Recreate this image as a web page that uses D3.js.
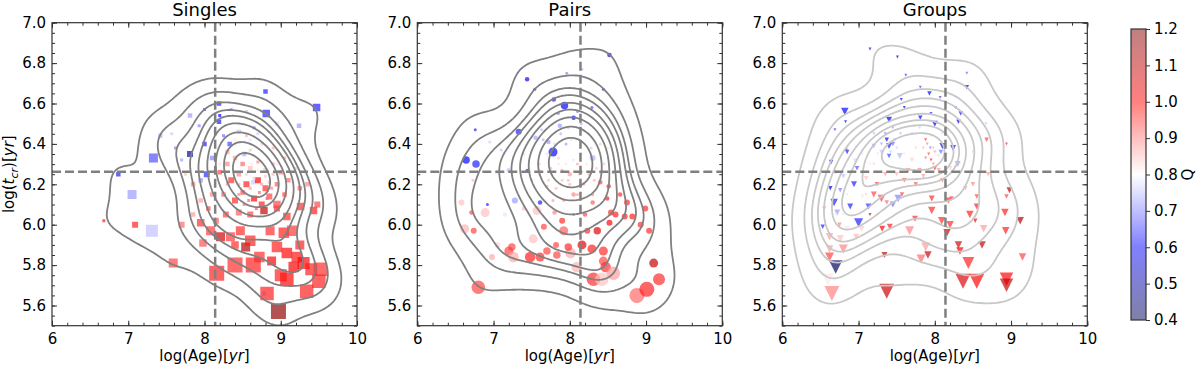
<!DOCTYPE html>
<html>
<head>
<meta charset="utf-8">
<script src="https://cdn.jsdelivr.net/npm/d3@7"></script>
<style>
  body { margin: 0; background: #fff; }
  text { font-family: "DejaVu Sans", sans-serif; fill: #000; }
</style>
</head>
<body>
<div id="chart"></div>
<script>
// [log(Age), log(t_cr), Q, marker size]
var singles = [
  [8.80,6.66,0.62,2],[9.47,6.58,0.62,4],[8.81,6.55,0.62,4],[8.19,6.60,0.62,2],[8.00,6.57,0.65,1],
  [8.35,6.57,0.72,1],[8.55,6.56,0.75,1],[7.81,6.54,0.72,2],[7.93,6.49,0.70,1],[8.19,6.51,0.62,2],
  [8.20,6.54,0.60,1],[9.24,6.49,0.72,2],[8.95,6.50,0.77,2],[8.65,6.48,0.70,1],[8.45,6.46,0.76,2],
  [7.33,6.33,0.66,5],[7.81,6.35,0.50,3],[7.42,6.44,0.74,2],[7.57,6.45,0.76,1],[7.62,6.38,0.70,1],
  [7.70,6.32,0.72,1],[6.87,6.25,0.62,2],[7.05,6.15,0.72,5],[7.31,5.97,0.75,7],[7.09,6.00,0.98,3],
  [6.68,6.02,0.98,1],[7.59,5.81,0.95,5],[7.70,6.00,0.92,3],[7.85,6.05,0.88,2],[8.00,6.40,0.62,2],
  [8.03,6.25,0.63,3],[8.33,6.40,0.65,2],[8.52,6.35,0.73,2],[8.64,6.21,0.76,2],[8.78,5.66,0.74,2],
  [8.10,6.33,0.70,2],[8.25,6.44,0.68,1],[7.95,6.22,0.72,2],
  [8.30,6.30,0.90,2],[8.40,6.33,0.88,2],[8.50,6.30,0.92,2],[8.60,6.28,0.86,2],[8.70,6.31,0.90,1],
  [8.80,6.27,0.85,2],[8.90,6.30,0.88,1],[9.00,6.26,0.90,2],[9.10,6.22,0.92,2],[8.20,6.26,0.95,2],
  [8.35,6.22,0.97,3],[8.45,6.25,0.90,2],[8.55,6.20,0.98,3],[8.70,6.22,1.00,3],[8.80,6.18,0.97,3],
  [8.95,6.20,0.93,2],[9.05,6.15,0.95,2],[8.25,6.15,0.93,2],[8.40,6.12,0.97,3],[8.50,6.16,0.95,2],
  [8.65,6.13,1.00,3],[8.75,6.10,0.98,3],[8.85,6.14,0.95,3],[8.95,6.08,0.97,3],[8.78,6.07,1.10,4],
  [8.60,6.05,0.95,3],[8.45,6.06,0.93,3],[8.10,6.15,0.90,2],[8.05,6.08,0.95,2],[8.15,6.02,0.93,3],
  [7.95,6.12,0.88,2],[7.85,6.20,0.90,2],[7.75,6.25,0.85,1],[8.60,6.37,0.85,1],[8.75,6.40,0.84,1],
  [8.90,6.38,0.86,1],[9.05,6.33,0.88,1],[9.20,6.28,0.85,1],[9.25,6.18,0.93,2],[9.35,6.20,0.90,2],
  [9.26,6.09,0.97,4],[9.43,6.07,0.98,4],[9.48,6.10,0.95,3],[9.08,6.04,0.97,4],[8.95,6.10,0.95,4],
  [7.95,6.01,0.97,4],[8.08,5.97,0.96,5],[8.21,5.94,1.08,5],[8.34,5.94,0.96,5],[8.47,5.97,0.97,5],
  [8.54,5.89,1.12,5],[8.60,5.92,0.98,6],[8.86,5.97,0.97,5],[8.95,5.89,0.98,6],[9.04,5.96,0.98,6],
  [9.15,5.97,0.96,6],[9.08,5.86,1.00,6],[9.21,5.84,0.99,6],[9.17,5.79,1.02,6],[9.30,5.81,1.00,7],
  [9.40,5.78,0.98,7],[9.52,5.78,0.97,8],[9.50,5.72,0.98,8],[9.34,5.67,0.98,8],[9.08,5.73,1.00,8],
  [9.00,5.75,0.98,7],[8.82,5.66,0.98,8],[8.97,5.57,1.18,9],[8.64,5.80,0.98,9],[8.40,5.80,0.97,9],
  [8.16,5.76,0.98,9],[8.72,5.84,0.97,6],[8.88,5.82,1.00,5],[9.25,5.90,0.98,5],[8.40,5.90,0.97,4],
  [8.28,6.05,0.95,3],[7.98,5.91,0.94,4],[8.40,6.42,0.82,1],[8.55,6.44,0.86,1],[8.30,6.36,0.87,2],
  // faint small ones in the dense core
  [8.45,6.20,0.86,1],[8.55,6.25,0.84,1],[8.60,6.18,0.88,1],[8.65,6.23,0.85,1],[8.70,6.27,0.82,1],
  [8.75,6.20,0.88,1],[8.80,6.24,0.84,1],[8.85,6.21,0.86,1],[8.50,6.28,0.80,1],[8.62,6.30,0.82,1],
  [8.72,6.16,0.92,1],[8.58,6.12,0.92,1],[8.40,6.26,0.84,1],[8.35,6.32,0.80,1],[8.48,6.35,0.80,1],
  [8.66,6.35,0.80,1],[8.90,6.25,0.86,1],[8.95,6.30,0.82,1],[8.30,6.20,0.88,1],[8.52,6.10,0.92,1],
  [8.68,6.08,0.94,1],[8.82,6.13,0.92,1],[8.40,6.40,0.78,1],[8.25,6.35,0.80,1],[8.78,6.33,0.80,1],
  [8.60,6.42,0.78,1],[8.88,6.18,0.90,1],[8.45,6.15,0.90,1],[8.20,6.30,0.82,1],[8.70,6.45,0.76,1]
];

var pairs = [
  [8.52,6.84,0.60,2],[7.44,6.72,0.60,2],[7.54,6.67,0.60,1],[7.96,6.75,0.70,1],[8.16,6.77,0.75,1],
  [8.44,6.67,0.62,1],[7.79,6.62,0.62,2],[7.93,6.59,0.60,4],[8.05,6.53,0.60,2],[8.10,6.56,0.70,1],
  [8.29,6.58,0.65,1],[7.33,6.46,0.62,3],[6.76,6.47,0.62,1],[6.77,6.30,0.62,4],[6.64,6.32,0.60,4],
  [7.78,6.36,0.60,5],[7.72,6.41,0.72,2],[7.87,6.49,0.72,2],[7.63,6.47,0.75,1],[7.55,6.43,0.73,2],
  [7.44,6.27,0.62,1],[7.20,6.27,0.75,2],[7.05,6.26,0.78,2],[6.92,6.10,0.62,1],[6.73,6.22,0.86,1],
  [6.60,6.21,0.80,1],[6.58,6.11,0.85,3],[6.71,6.06,0.95,2],[6.89,6.06,0.85,5],[6.62,5.98,0.86,5],
  [6.74,5.97,0.95,3],[6.80,5.69,0.95,8],[7.28,6.12,0.72,3],[7.15,6.05,0.78,2],[7.40,6.08,0.85,2],
  [7.57,6.07,0.85,5],[7.66,5.99,0.95,3],[7.61,6.11,0.62,2],[7.52,5.93,0.85,5],[7.92,5.97,0.93,5],
  [7.90,6.02,0.97,3],[7.80,6.06,0.90,2],[7.05,5.90,0.83,3],[7.20,5.87,0.95,5],[7.26,5.84,0.87,6],
  [7.24,5.89,0.95,4],[7.48,5.84,0.98,6],[7.61,5.84,0.97,5],[7.70,5.87,0.95,4],[7.83,5.85,0.95,4],
  [8.01,5.86,0.87,6],[7.98,5.89,0.97,4],[7.82,5.90,0.95,3],[8.09,5.79,0.86,6],[8.16,5.90,1.05,5],
  [8.29,5.88,0.98,5],[8.36,5.97,1.05,4],[8.23,5.97,0.97,3],[8.44,5.87,0.97,5],[8.44,5.82,0.95,5],
  [8.47,5.79,0.97,6],[8.31,5.73,0.97,8],[8.57,5.76,0.88,8],[8.42,5.73,0.85,8],[8.88,5.65,0.92,9],
  [9.01,5.68,0.98,9],[9.17,5.73,0.97,7],[9.10,5.81,1.10,5],[9.04,5.97,0.97,3],[8.93,6.00,0.97,3],
  [8.99,6.08,0.97,3],[8.82,6.04,0.98,3],[8.72,6.04,0.98,3],[8.75,6.11,0.97,3],[8.60,6.05,0.98,3],
  [8.54,6.06,0.97,3],[8.52,6.01,1.00,3],[8.49,6.13,0.98,2],[8.51,6.19,0.97,2],[8.66,6.15,0.97,2],
  [8.57,6.26,0.95,1],[8.40,6.21,0.95,2],[8.30,6.11,0.93,2],[8.20,6.05,0.95,2],[8.05,6.15,0.90,2],
  [8.00,6.25,0.88,2],[7.90,6.22,0.85,1],[8.10,6.30,0.87,1],[8.20,6.38,0.80,2],[8.30,6.33,0.74,3],
  [8.25,6.45,0.84,1],[7.95,6.40,0.72,1],[8.40,6.40,0.84,1],[8.55,6.45,0.84,1],[8.35,6.49,0.80,1],
  [7.60,6.25,0.84,1],[7.70,6.19,0.87,1],[7.35,6.18,0.80,1],[7.85,6.30,0.82,1],[8.00,6.35,0.80,2],
  [7.10,6.37,0.75,1],[6.95,6.41,0.76,1],[8.70,6.35,0.84,1],[8.60,6.55,0.80,1],[6.98,5.84,0.87,3],
  // faint small ones in the dense core
  [7.60,6.30,0.85,1],[7.70,6.35,0.78,1],[7.75,6.28,0.86,1],[7.80,6.40,0.76,1],[7.85,6.33,0.84,1],
  [7.90,6.27,0.88,1],[7.95,6.30,0.82,1],[8.00,6.20,0.86,1],[8.05,6.32,0.78,1],[8.08,6.40,0.80,1],
  [8.12,6.25,0.84,1],[8.15,6.35,0.78,1],[8.18,6.20,0.88,1],[8.22,6.30,0.82,1],[8.25,6.25,0.86,1],
  [8.28,6.38,0.76,1],[8.32,6.22,0.86,1],[8.35,6.28,0.84,1],[8.38,6.35,0.80,1],[7.65,6.42,0.74,1],
  [7.72,6.22,0.85,1],[7.82,6.18,0.86,1],[7.88,6.45,0.74,1],[7.98,6.48,0.76,1],[8.02,6.42,0.78,1],
  [8.10,6.15,0.88,1],[8.20,6.45,0.80,1],[8.30,6.15,0.90,1],[7.55,6.35,0.80,1],[7.50,6.22,0.85,1],
  [7.92,6.12,0.88,1],[8.45,6.30,0.84,1],[8.05,6.05,0.92,1],[7.78,6.12,0.88,1],[8.15,6.50,0.74,1],
  [7.85,6.55,0.70,1],[7.40,6.35,0.78,1],[7.30,6.30,0.80,1],[8.50,6.38,0.82,1],[7.98,6.22,0.86,1]
];

var groups = [
  [7.15,6.87,0.60,1],[7.51,6.83,0.48,1],[7.62,6.74,0.65,1],[8.42,6.75,0.68,1],[8.42,6.68,0.60,2],
  [7.81,6.68,0.65,1],[7.93,6.65,0.58,2],[8.07,6.63,0.65,1],[6.82,6.56,0.60,4],[6.83,6.51,0.60,1],
  [6.69,6.47,0.65,1],[7.40,6.52,0.58,3],[7.56,6.62,0.60,1],[7.60,6.58,0.60,1],[7.81,6.53,0.60,2],
  [7.95,6.55,0.62,1],[8.00,6.50,0.60,3],[8.27,6.58,0.65,1],[8.31,6.51,0.60,2],[8.34,6.55,0.62,2],
  [8.67,6.50,0.75,1],[8.56,6.45,0.80,1],[8.68,6.42,0.95,2],[8.94,6.40,0.97,1],[8.24,6.38,0.62,3],
  [8.10,6.39,0.55,3],[8.08,6.36,0.68,2],[7.94,6.38,0.70,1],[8.05,6.42,0.75,1],[7.37,6.42,0.60,2],
  [7.40,6.39,0.62,3],[7.45,6.40,0.68,2],[7.20,6.39,0.72,2],[7.30,6.36,0.75,2],[7.40,6.34,0.65,2],
  [7.54,6.34,0.74,3],[6.85,6.36,0.62,2],[6.84,6.37,0.65,1],[6.64,6.31,0.58,2],[6.63,6.18,0.58,2],
  [6.68,6.11,0.62,4],[6.89,6.09,0.62,3],[7.00,6.01,0.62,5],[7.13,6.09,0.64,3],[6.53,5.99,0.62,2],
  [6.72,6.06,0.72,3],[6.94,6.20,0.62,3],[6.98,6.28,0.66,2],[6.80,6.24,0.75,2],[6.76,6.17,0.70,2],
  [6.62,5.94,0.88,4],[6.76,5.93,0.85,4],[6.97,5.94,0.86,3],[6.62,5.88,0.88,4],[6.80,5.88,0.90,5],
  [6.62,5.84,0.95,5],[6.70,5.79,0.42,8],[6.60,5.73,0.82,7],[6.65,5.66,0.90,9],[7.37,5.67,1.08,9],
  [7.34,5.85,1.10,3],[7.31,5.98,1.02,3],[7.41,5.99,0.98,3],[7.15,6.05,1.10,1],[7.04,5.98,0.84,3],
  [7.05,6.14,0.82,2],[7.20,6.15,0.95,3],[7.30,6.13,0.95,4],[7.37,6.11,0.92,2],[7.52,6.13,0.70,4],
  [7.45,6.10,0.68,3],[7.24,6.20,0.95,2],[7.57,6.15,0.95,2],[7.67,5.97,0.90,5],[7.74,6.03,0.97,3],
  [7.82,5.83,0.92,5],[7.88,5.89,0.88,5],[7.91,5.85,1.08,4],[7.96,6.07,0.97,4],[7.96,6.13,0.97,3],
  [8.09,6.02,0.97,4],[8.16,5.96,1.08,4],[8.20,6.00,0.97,4],[8.18,6.12,0.97,3],[8.22,6.13,0.95,2],
  [8.31,5.90,1.07,4],[8.33,5.87,1.02,4],[8.44,5.81,0.98,7],[8.37,5.72,1.05,9],[8.55,5.72,1.00,9],
  [8.46,6.05,0.98,4],[8.53,6.02,1.00,2],[8.55,6.09,0.98,3],[8.62,5.90,1.10,4],[8.64,5.98,0.88,4],
  [8.55,6.14,0.95,2],[8.92,6.06,0.98,4],[8.93,5.97,0.98,4],[8.98,6.17,1.12,3],[8.94,6.14,0.95,2],
  [9.12,6.02,1.12,4],[9.15,5.84,0.95,4],[8.94,5.73,1.00,8],[8.94,5.70,1.10,8],[8.70,6.25,0.88,2],
  [8.50,6.20,0.90,2],[8.40,6.18,0.88,2],[7.98,6.30,0.90,1],[8.05,6.27,0.88,2],[7.88,6.42,0.97,1],
  [7.92,6.35,0.95,1],[7.95,6.32,0.98,1],[8.00,6.28,0.96,2],[7.80,6.27,0.90,2],[7.65,6.27,0.90,2],
  [7.60,6.22,0.95,2],[7.75,6.20,0.93,2],[7.85,6.24,0.88,2],[7.70,6.32,0.84,2],[8.10,6.22,0.92,2],
  [8.20,6.28,0.84,2],[8.30,6.30,0.72,3],[8.40,6.30,0.80,1],[8.50,6.36,0.84,1],[8.60,6.40,0.80,1],
  [7.20,6.30,0.84,1],[7.10,6.23,0.85,2],[7.35,6.25,0.88,2],[7.50,6.25,0.86,2],[6.70,6.26,0.86,2],
  [6.55,6.08,0.88,2],[6.75,6.00,0.90,2],[6.85,5.98,0.82,3],
  // faint small ones in the two cores
  [7.30,6.40,0.72,1],[7.35,6.45,0.70,1],[7.42,6.36,0.75,1],[7.48,6.42,0.72,1],[7.25,6.35,0.78,1],
  [7.50,6.38,0.76,1],[7.38,6.30,0.80,1],[7.85,6.38,0.86,1],[7.90,6.40,0.90,1],[7.95,6.44,0.84,1],
  [8.00,6.36,0.88,1],[8.02,6.40,0.80,1],[7.88,6.33,0.92,1],[7.98,6.38,0.86,1],[8.05,6.34,0.84,1],
  [7.65,6.40,0.80,1],[7.70,6.45,0.76,1],[7.60,6.35,0.82,1],[7.75,6.38,0.84,1],[7.55,6.45,0.74,1],
  [7.20,6.45,0.74,1],[7.15,6.30,0.82,1],[7.05,6.35,0.78,1],[6.95,6.32,0.76,1],[6.90,6.25,0.80,1],
  [6.85,6.15,0.78,1],[6.75,6.10,0.80,1],[6.70,6.05,0.82,1],[6.80,6.05,0.78,1],[6.95,6.12,0.80,1],
  [7.10,6.15,0.84,1],[8.10,6.45,0.78,1],[7.80,6.48,0.76,1],[7.45,6.48,0.72,1],[8.15,6.35,0.84,1]
];

var panelTitles = ["Singles", "Pairs", "Groups"];
var xTicks = [6, 7, 8, 9, 10];
var yTicks = [5.6, 5.8, 6.0, 6.2, 6.4, 6.6, 6.8, 7.0];
var qTicks = [0.4, 0.5, 0.6, 0.7, 0.8, 0.9, 1.0, 1.1, 1.2];
var ageCut = 8.14, tcrCut = 6.262;
// seaborn default iso-proportion levels (levels=10, thresh=0.05)
var kdeLevels = [0.05, 0.1556, 0.2611, 0.3667, 0.4722, 0.5778, 0.6833, 0.7889, 0.8944];

var width = 1200, height = 367;
var panelLeft = [52, 417.3, 782.3], panelW = 305;
var plotTop = 22.7, plotH = 303;

var svg = d3.select("#chart").append("svg")
    .attr("width", width).attr("height", height);

// seismic colormap, vmin 0.4 vmax 1.2
var color = d3.scaleLinear()
    .domain([0.4, 0.6, 0.8, 1.0, 1.2])
    .range(["#00004d", "#0000ff", "#ffffff", "#ff0000", "#800000"])
    .clamp(true);
var side = d3.scaleLinear().domain([1, 9]).range([3, 15]);

// gaussian kde (scott bandwidth) evaluated on a grid, like scipy/seaborn
var kdeGrid = (pts, nx, ny) => {
  var n = pts.length;
  var mx = d3.mean(pts, d => d[0]), my = d3.mean(pts, d => d[1]);
  var sxx = 0, syy = 0, sxy = 0;
  pts.forEach(d => {
    var a = d[0] - mx, b = d[1] - my;
    sxx += a * a; syy += b * b; sxy += a * b;
  });
  var f2 = Math.pow(n, -1 / 3) / (n - 1);
  var cxx = sxx * f2, cyy = syy * f2, cxy = sxy * f2;
  var det = cxx * cyy - cxy * cxy;
  var ixx = cyy / det, iyy = cxx / det, ixy = -cxy / det;
  var bx = Math.sqrt(cxx), by = Math.sqrt(cyy);
  var x0 = d3.min(pts, d => d[0]) - 3 * bx, x1 = d3.max(pts, d => d[0]) + 3 * bx;
  var y0 = d3.min(pts, d => d[1]) - 3 * by, y1 = d3.max(pts, d => d[1]) + 3 * by;
  var dx = (x1 - x0) / (nx - 1), dy = (y1 - y0) / (ny - 1);
  var values = new Float64Array(nx * ny);
  for (var j = 0; j < ny; j++) {
    var gy = y0 + j * dy;
    for (var i = 0; i < nx; i++) {
      var gx = x0 + i * dx, s = 0;
      for (var k = 0; k < n; k++) {
        var a = gx - pts[k][0], b = gy - pts[k][1];
        s += Math.exp(-0.5 * (ixx * a * a + 2 * ixy * a * b + iyy * b * b));
      }
      values[i + j * nx] = s;
    }
  }
  var sorted = Array.from(values).sort((a, b) => b - a);
  var total = d3.sum(sorted), cum = 0;
  var cums = sorted.map(v => (cum += v) / total);
  var thresholds = kdeLevels.map(p => sorted[Math.min(d3.bisectLeft(cums, 1 - p), sorted.length - 1)]);
  return {values, thresholds, x0, y0, dx, dy, nx, ny};
};

var drawPanel = (data, idx, shape, contourColor) => {
  var left = panelLeft[idx];
  var x = d3.scaleLinear().domain([6, 10]).range([left, left + panelW]);
  var y = d3.scaleLinear().domain([5.5, 7.0]).range([plotTop + plotH, plotTop]);
  var g = svg.append("g");

  g.append("clipPath").attr("id", "clip" + idx)
    .append("rect").attr("x", left).attr("y", plotTop).attr("width", panelW).attr("height", plotH);

  var body = g.append("g").attr("clip-path", `url(#clip${idx})`);

  // scatter
  body.append("g").selectAll("path")
    .data(data)
    .join("path")
      .attr("transform", d => `translate(${x(d[0])},${y(d[1])})`)
      .attr("d", d => {
        var s = side(d[3]), h = s / 2;
        if (shape == "square") return `M${-h},${-h}h${s}v${s}h${-s}Z`;
        if (shape == "circle") return `M${-h},0a${h},${h} 0 1,0 ${s},0a${h},${h} 0 1,0 ${-s},0Z`;
        return `M${-h},${-h}L${h},${-h}L0,${h}Z`;
      })
      .attr("fill", d => color(d[2]))
      .attr("fill-opacity", 0.68);

  // kde contours
  var kde = kdeGrid(data, 150, 110);
  var contours = d3.contours().size([kde.nx, kde.ny]).thresholds(kde.thresholds)(kde.values);
  var proj = d3.geoTransform({
    point: function(px, py) {
      this.stream.point(x(kde.x0 + (px - 0.5) * kde.dx), y(kde.y0 + (py - 0.5) * kde.dy));
    }
  });
  body.append("g").selectAll("path")
    .data(contours)
    .join("path")
      .attr("d", d3.geoPath(proj))
      .attr("fill", "none")
      .attr("stroke", contourColor)
      .attr("stroke-width", 1.8)
      .attr("stroke-linejoin", "round");

  // threshold lines
  body.append("line")
    .attr("x1", x(ageCut)).attr("x2", x(ageCut)).attr("y1", plotTop).attr("y2", plotTop + plotH)
    .attr("stroke", "#808080").attr("stroke-width", 2.5).attr("stroke-dasharray", "9,4");
  body.append("line")
    .attr("x1", left).attr("x2", left + panelW).attr("y1", y(tcrCut)).attr("y2", y(tcrCut))
    .attr("stroke", "#808080").attr("stroke-width", 2.5).attr("stroke-dasharray", "9,4");

  // axes, ticks pointing in on all four sides
  var xMinor = d3.range(6, 10.001, 0.2), yMinor = d3.range(5.5, 7.001, 0.05);
  var axes = [
    d3.axisBottom(x).tickValues(xTicks).tickFormat(d3.format("d")),
    d3.axisTop(x).tickValues(xTicks).tickFormat(""),
    d3.axisLeft(y).tickValues(yTicks).tickFormat(d3.format(".1f")),
    d3.axisRight(y).tickValues(yTicks).tickFormat("")
  ];
  var pos = [`translate(0,${plotTop + plotH})`, `translate(0,${plotTop})`, `translate(${left},0)`, `translate(${left + panelW},0)`];
  var minorAxes = [
    d3.axisBottom(x).tickValues(xMinor).tickFormat(""),
    d3.axisTop(x).tickValues(xMinor).tickFormat(""),
    d3.axisLeft(y).tickValues(yMinor).tickFormat(""),
    d3.axisRight(y).tickValues(yMinor).tickFormat("")
  ];
  axes.forEach((ax, i) => {
    g.append("g").attr("transform", pos[i])
      .call(minorAxes[i].tickSizeInner(-3).tickSizeOuter(0))
      .call(a => a.select(".domain").remove())
      .call(a => a.selectAll("line").attr("stroke", "#333"));
    g.append("g").attr("transform", pos[i])
      .call(ax.tickSizeInner(-5).tickSizeOuter(0).tickPadding(i == 2 ? 6 : 8))
      .call(a => a.select(".domain").remove())
      .call(a => a.selectAll("line").attr("stroke", "#333"))
      .call(a => a.selectAll("text").attr("font-size", 15).attr("font-family", "DejaVu Sans").attr("fill", "#000"));
  });

  g.append("rect")
    .attr("x", left).attr("y", plotTop).attr("width", panelW).attr("height", plotH)
    .attr("fill", "none").attr("stroke", "#333").attr("stroke-width", 1.2);

  g.append("text")
    .attr("x", left + panelW / 2).attr("y", 16)
    .attr("text-anchor", "middle").attr("font-size", 18)
    .text(panelTitles[idx]);

  var xl = g.append("text")
    .attr("x", left + panelW / 2).attr("y", 361)
    .attr("text-anchor", "middle").attr("font-size", 15);
  xl.append("tspan").text("log(Age)[");
  xl.append("tspan").attr("font-style", "italic").text("yr");
  xl.append("tspan").text("]");
};

drawPanel(singles, 0, "square", "#808080");
drawPanel(pairs, 1, "circle", "#808080");
drawPanel(groups, 2, "triangle", "#c8c8c8");

// y label, first panel only
var yl = svg.append("text")
    .attr("transform", `translate(14,${plotTop + plotH / 2}) rotate(-90)`)
    .attr("text-anchor", "middle").attr("font-size", 15);
yl.append("tspan").text("log(");
yl.append("tspan").attr("font-style", "italic").text("t");
yl.append("tspan").attr("font-style", "italic").attr("font-size", 11).attr("dy", 4).text("cr");
yl.append("tspan").attr("dy", -4).text(")[");
yl.append("tspan").attr("font-style", "italic").text("yr");
yl.append("tspan").text("]");

// colorbar
var cbX = 1131, cbW = 15, cbTop = 29, cbBot = 320;
var cy = d3.scaleLinear().domain([0.4, 1.2]).range([cbBot, cbTop]);
var grad = svg.append("defs").append("linearGradient")
    .attr("id", "cbgrad").attr("x1", 0).attr("x2", 0).attr("y1", 1).attr("y2", 0);
grad.selectAll("stop")
  .data(d3.range(0.4, 1.2001, 0.05))
  .join("stop")
    .attr("offset", d => (d - 0.4) / 0.8)
    .attr("stop-color", d => color(d))
    .attr("stop-opacity", 0.5);
svg.append("rect")
    .attr("x", cbX).attr("y", cbTop).attr("width", cbW).attr("height", cbBot - cbTop)
    .attr("fill", "url(#cbgrad)").attr("stroke", "#333").attr("stroke-width", 1.2);
svg.append("g")
    .attr("transform", `translate(${cbX + cbW},0)`)
    .call(d3.axisRight(cy).tickValues(qTicks).tickFormat(d3.format(".1f")).tickSizeInner(4).tickSizeOuter(0).tickPadding(4))
    .call(a => a.select(".domain").remove())
    .call(a => a.selectAll("line").attr("stroke", "#333"))
    .call(a => a.selectAll("text").attr("font-size", 15).attr("font-family", "DejaVu Sans").attr("fill", "#000"));
svg.append("text")
    .attr("transform", `translate(1193,${(cbTop + cbBot) / 2}) rotate(-90)`)
    .attr("text-anchor", "middle").attr("font-size", 15)
    .text("Q");
</script>
</body>
</html>
